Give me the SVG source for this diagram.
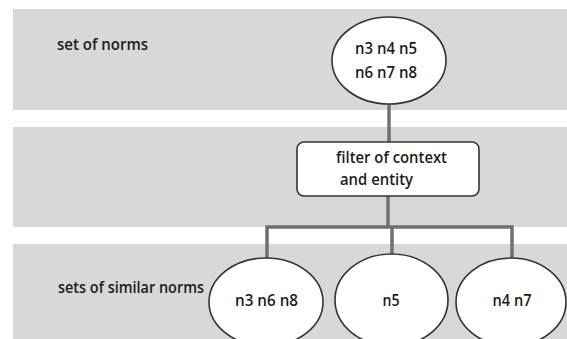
<svg xmlns="http://www.w3.org/2000/svg" width="567" height="339" viewBox="0 0 567 339">
<style>
.band{fill:#d8d8d8;}
.node{fill:#ffffff;stroke:#333333;stroke-width:1.6;}
.lbl{font-family:"Open Sans","Liberation Sans",Arial,sans-serif;font-size:16.5px;font-weight:600;fill:#1c1c1c;}
.conn{fill:none;stroke:#707070;stroke-width:3.5;}
</style>
<rect width="567" height="339" fill="#ffffff"/>
<g id="bands">
<rect class="band" x="13" y="9" width="554" height="101"/>
<rect class="band" x="13" y="127" width="554" height="100"/>
<rect class="band" x="13" y="244" width="554" height="95"/>
</g>
<g id="band-labels">
<text class="lbl" x="57" y="50" textLength="91" lengthAdjust="spacingAndGlyphs">set of norms</text>
<text class="lbl" x="58" y="293" textLength="146" lengthAdjust="spacingAndGlyphs">sets of similar norms</text>
</g>
<g id="connectors">
<line class="conn" x1="389" y1="104" x2="389" y2="142"/>
<line class="conn" x1="388" y1="196" x2="388" y2="227"/>
<polyline class="conn" points="267,258 267,227 512,227 512,258"/>
<line class="conn" x1="392" y1="227" x2="392" y2="254"/>
</g>
<g id="node-all">
<ellipse class="node" cx="389" cy="60.5" rx="57" ry="43.5"/>
<text class="lbl" x="386" y="54" text-anchor="middle" textLength="62" lengthAdjust="spacingAndGlyphs">n3 n4 n5</text>
<text class="lbl" x="386" y="78" text-anchor="middle" textLength="62" lengthAdjust="spacingAndGlyphs">n6 n7 n8</text>
</g>
<g id="node-filter">
<rect class="node" x="297" y="142" width="182" height="54" rx="7"/>
<text class="lbl" x="336" y="163" textLength="111" lengthAdjust="spacingAndGlyphs">filter of context</text>
<text class="lbl" x="340" y="185" textLength="73" lengthAdjust="spacingAndGlyphs">and entity</text>
</g>
<g id="node-a">
<ellipse class="node" cx="266" cy="302" rx="57" ry="44"/>
<text class="lbl" x="266.5" y="306" text-anchor="middle" textLength="63" lengthAdjust="spacingAndGlyphs">n3 n6 n8</text>
</g>
<g id="node-b">
<ellipse class="node" cx="391.5" cy="300" rx="56.5" ry="46"/>
<text class="lbl" x="391" y="306" text-anchor="middle" textLength="17" lengthAdjust="spacingAndGlyphs">n5</text>
</g>
<g id="node-c">
<ellipse class="node" cx="511" cy="302" rx="55" ry="44"/>
<text class="lbl" x="512" y="306" text-anchor="middle" textLength="39" lengthAdjust="spacingAndGlyphs">n4 n7</text>
</g>
</svg>
